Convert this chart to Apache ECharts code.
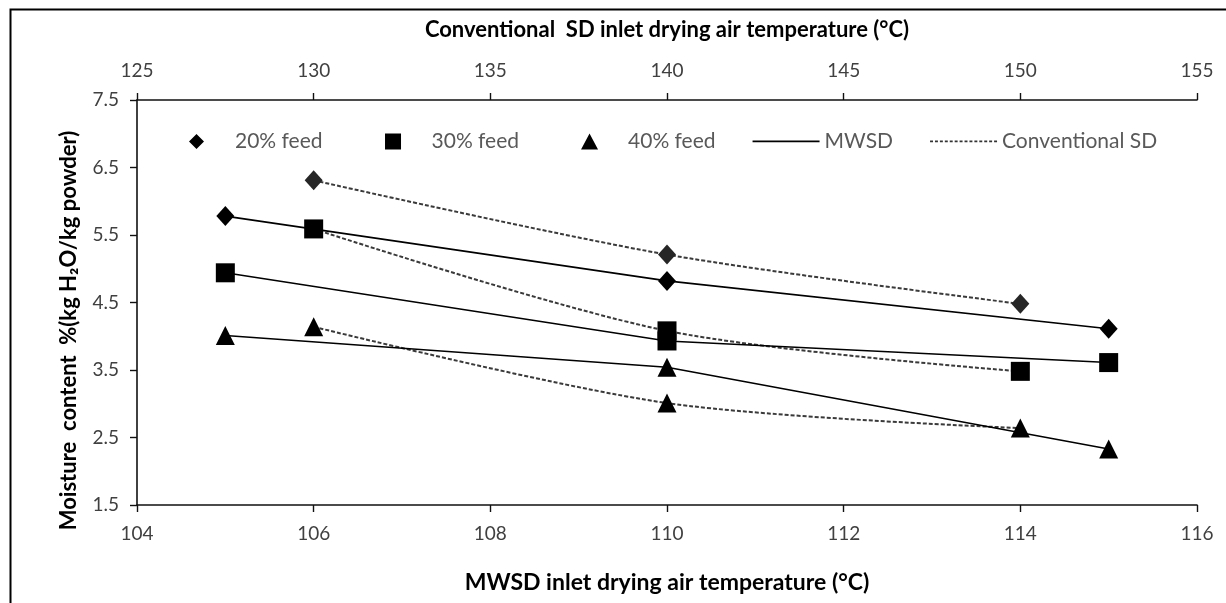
<!DOCTYPE html>
<html>
<head>
<meta charset="utf-8">
<script src="https://cdn.jsdelivr.net/npm/echarts@6/dist/echarts.min.js"></script>
<style>
html,body{margin:0;padding:0;background:#fff;}
#chart{width:1226px;height:603px;}
</style>
</head>
<body>
<div id="chart"></div>
<script>
// ---- data ----
const mwsdTemps = [105, 110, 115];
const convTemps = [130, 140, 150];
const mwsd20 = [5.78, 4.82, 4.11];
const mwsd30 = [4.94, 3.93, 3.61];
const mwsd40 = [4.01, 3.54, 2.33];
const conv20 = [6.31, 5.21, 4.48];
const conv30 = [5.59, 4.08, 3.48];
const conv40 = [4.14, 3.01, 2.64];
const feedNames = ['20% feed', '30% feed', '40% feed'];
const processNames = ['MWSD', 'Conventional SD'];
const bottomAxisTitle = 'MWSD inlet drying air temperature (\u00B0C)';
const topAxisTitle = 'Conventional  SD inlet drying air temperature (\u00B0C)';
const yAxisTitle = 'Moisture  content  %(kg H\u2082O/kg powder)';

const pairs = (xs, ys) => xs.map((x, i) => [x, ys[i]]);
const FONT = 'Lato, "Open Sans", sans-serif';

const symbols = ['diamond', 'rect', 'triangle'];
const symSizes = [[18, 20], [19, 19], [19, 19]];
const mwsdSets = [mwsd20, mwsd30, mwsd40];
const convSets = [conv20, conv30, conv40];

const series = [];
feedNames.forEach((name, k) => {
  series.push({
    name: name, type: 'line', xAxisIndex: 1, yAxisIndex: 0,
    data: pairs(convTemps, convSets[k]),
    symbol: symbols[k], symbolSize: symSizes[k], smooth: 0.3,
    itemStyle: {color: k === 0 ? '#262626' : '#000'},
    lineStyle: {color: '#3a3a3a', width: 2, type: [4, 2]},
    z: 2
  });
  series.push({
    name: name, type: 'line', xAxisIndex: 0, yAxisIndex: 0,
    data: pairs(mwsdTemps, mwsdSets[k]),
    symbol: symbols[k], symbolSize: symSizes[k],
    itemStyle: {color: '#000'},
    lineStyle: {color: '#000', width: 1.6},
    z: 3
  });
});
// legend-only entries for line styles
processNames.forEach(name => {
  series.push({name: name, type: 'line', data: [], symbol: 'none',
    lineStyle: {color: '#000'}, itemStyle: {color: '#000'}});
});

// legend icon shapes padded to the full 67x16 legend box so they keep their aspect
const W = 67, H = 16, cx = 33.5;
const pad = 'path://M0 0h0.01v0.01h-0.01zM66.99 15.99h0.01v0.01h-0.01z';
const iconDiamond = pad + 'M' + cx + ' 0.5L' + (cx + 7.5) + ' 8L' + cx + ' 15.5L' + (cx - 7.5) + ' 8Z';
const iconRect = pad + 'M' + (cx - 8) + ' 0h16v16h-16Z';
const iconTri = pad + 'M' + cx + ' 0L' + (cx + 8.5) + ' 16L' + (cx - 8.5) + ' 16Z';
const iconLine = pad + 'M0 7h67v1.8h-67Z';
let iconDash = pad;
for (let x = 0; x < 66; x += 5) iconDash += 'M' + x + ' 7h3v1.8h-3z';

const chart = echarts.init(document.getElementById('chart'));
chart.setOption({
  animation: false,
  textStyle: {fontFamily: FONT},
  grid: {left: 137, right: 29, top: 100, bottom: 98, containLabel: false},
  legend: {
    left: 158, top: 126, itemWidth: W, itemHeight: H, itemGap: 37,
    textStyle: {fontSize: 21, color: '#595959', fontFamily: FONT},
    data: [
      {name: feedNames[0], icon: iconDiamond, itemStyle: {color: '#000'}},
      {name: feedNames[1], icon: iconRect, itemStyle: {color: '#000'}},
      {name: feedNames[2], icon: iconTri, itemStyle: {color: '#000'}},
      {name: processNames[0], icon: iconLine, itemStyle: {color: '#000'}},
      {name: processNames[1], icon: iconDash, itemStyle: {color: '#333'}}
    ]
  },
  xAxis: [
    {
      type: 'value', position: 'bottom', min: 104, max: 116, interval: 2,
      name: bottomAxisTitle, nameLocation: 'middle', nameGap: 66,
      nameTextStyle: {fontSize: 23, fontWeight: 'bold', color: '#000', fontFamily: FONT},
      axisLine: {lineStyle: {color: '#111', width: 1.6}},
      axisTick: {show: true, length: 7, lineStyle: {color: '#111', width: 1.4}},
      axisLabel: {fontSize: 19, color: '#404040', margin: 19, fontFamily: FONT},
      splitLine: {show: false}
    },
    {
      type: 'value', position: 'top', min: 125, max: 155, interval: 5,
      name: topAxisTitle, nameLocation: 'middle', nameGap: 59,
      nameTextStyle: {fontSize: 22, fontWeight: 'bold', color: '#000', fontFamily: FONT},
      axisLine: {lineStyle: {color: '#111', width: 1.6}},
      axisTick: {show: true, length: 7, lineStyle: {color: '#111', width: 1.4}},
      axisLabel: {fontSize: 19, color: '#404040', margin: 20, fontFamily: FONT},
      splitLine: {show: false}
    }
  ],
  yAxis: {
    type: 'value', min: 1.5, max: 7.5, interval: 1,
    name: yAxisTitle, nameLocation: 'middle', nameGap: 57,
    nameTextStyle: {fontSize: 22, fontWeight: 'bold', color: '#000', fontFamily: FONT,
      padding: [0, 56, 0, 0]},
    axisLine: {show: true, lineStyle: {color: '#111', width: 1.6}},
    axisTick: {show: true, length: 7, lineStyle: {color: '#111', width: 1.4}},
    axisLabel: {fontSize: 19, color: '#404040', margin: 18, fontFamily: FONT,
      formatter: v => v.toFixed(1)},
    splitLine: {show: false}
  },
  graphic: [{
    type: 'rect', left: 8, top: 7, silent: true, z: 100,
    shape: {width: 1240, height: 620},
    style: {fill: 'none', stroke: '#000', lineWidth: 2}
  }],
  series: series
});
</script>
</body>
</html>
